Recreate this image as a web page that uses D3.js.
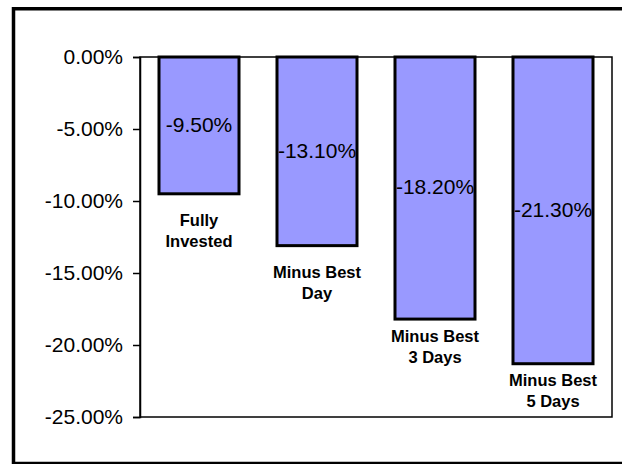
<!DOCTYPE html>
<html>
<head>
<meta charset="utf-8">
<script src="https://cdn.jsdelivr.net/npm/d3@7"></script>
<style>
  html, body { margin: 0; padding: 0; background: #fff; overflow: hidden; }
  svg { display: block; }
</style>
</head>
<body>
<svg id="chart" width="622" height="464"></svg>
<script>
// ---- data ----
const categories = [["Fully", "Invested"], ["Minus Best", "Day"], ["Minus Best", "3 Days"], ["Minus Best", "5 Days"]];
const values = [-9.5, -13.1, -18.2, -21.3];
const valueLabels = ["-9.50%", "-13.10%", "-18.20%", "-21.30%"];
const yTicks = [0, -5, -10, -15, -20, -25];
const yTickLabels = ["0.00%", "-5.00%", "-10.00%", "-15.00%", "-20.00%", "-25.00%"];

// ---- layout ----
const plot = { left: 140, right: 612, top: 57, bottom: 417 };
const catLabelOffsets = [32, 32, 23, 22];
const font = "'Liberation Sans', Arial, sans-serif";

const svg = d3.select("#chart");

// outer frame (right edge lies outside the picture)
svg.append("path")
  .attr("d", "M 700 8.7 H 13.5 V 463.5 H 700")
  .attr("fill", "none").attr("stroke", "#000").attr("stroke-width", 3.5);

const x = d3.scaleBand()
  .domain(d3.range(values.length))
  .range([plot.left, plot.right])
  .paddingInner(0.322)
  .paddingOuter(0.161);

const y = d3.scaleLinear()
  .domain([0, -25])
  .range([plot.top, plot.bottom]);

// plot area frame
svg.append("rect")
  .attr("x", plot.left).attr("y", plot.top)
  .attr("width", plot.right - plot.left).attr("height", plot.bottom - plot.top)
  .attr("fill", "none").attr("stroke", "#000").attr("stroke-width", 1.5);

// y axis
const yAxis = d3.axisLeft(y)
  .tickValues(yTicks)
  .tickSize(7)
  .tickPadding(10)
  .tickFormat((d, i) => yTickLabels[i]);

const ga = svg.append("g")
  .attr("transform", `translate(${plot.left},0)`)
  .call(yAxis);
ga.select(".domain").attr("stroke", "#000").attr("stroke-width", 1.5);
ga.selectAll(".tick line").attr("stroke", "#000").attr("stroke-width", 1.5);
ga.selectAll(".tick text")
  .attr("font-family", font)
  .attr("font-size", "21px")
  .attr("fill", "#000")
  .attr("dy", "0.3em");

// bars
svg.append("g").selectAll("rect")
  .data(values)
  .join("rect")
  .attr("x", (d, i) => x(i))
  .attr("y", d => y(0))
  .attr("width", x.bandwidth())
  .attr("height", d => y(d) - y(0))
  .attr("fill", "#9999FF")
  .attr("stroke", "#000")
  .attr("stroke-width", 3);

// value labels
svg.append("g").selectAll("text")
  .data(values)
  .join("text")
  .attr("x", (d, i) => x(i) + x.bandwidth() / 2)
  .attr("y", d => (y(0) + y(d)) / 2)
  .attr("dy", "0.3em")
  .attr("text-anchor", "middle")
  .attr("font-family", font)
  .attr("font-size", "21px")
  .attr("fill", "#000")
  .text((d, i) => valueLabels[i]);

// category labels
const cl = svg.append("g").selectAll("text")
  .data(values)
  .join("text")
  .attr("text-anchor", "middle")
  .attr("font-family", font)
  .attr("font-size", "16.5px")
  .attr("font-weight", "bold")
  .attr("fill", "#000");
cl.each(function (d, i) {
  const t = d3.select(this);
  const cx = x(i) + x.bandwidth() / 2;
  const base = y(d) + catLabelOffsets[i];
  categories[i].forEach((line, j) => {
    t.append("tspan").attr("x", cx).attr("y", base + j * 21).text(line);
  });
});
</script>
</body>
</html>
